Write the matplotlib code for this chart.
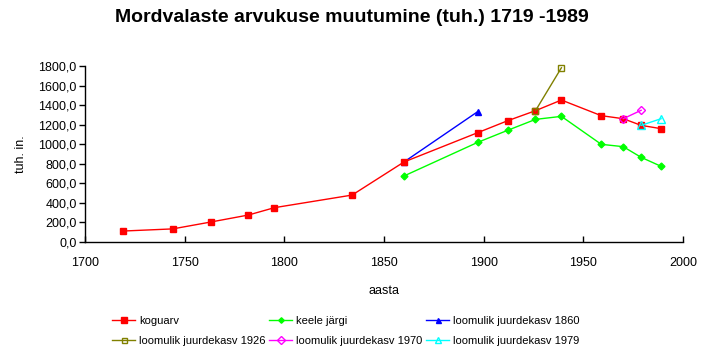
#!/usr/bin/env python3

import matplotlib
matplotlib.use('Agg')
import matplotlib.pyplot as plt
from matplotlib.ticker import FuncFormatter

# ======================================================================
# Data.
# ======================================================================

koguarv_years = [1719, 1744, 1763, 1782, 1795, 1834, 1860, 1897, 1912,
                 1926, 1939, 1959, 1970, 1979, 1989]
koguarv = [112, 134, 204, 276, 351, 480, 818, 1118, 1240,
           1343, 1452, 1292, 1261, 1193, 1159]

keele_years = [1860, 1897, 1912, 1926, 1939, 1959, 1970, 1979, 1989]
keele = [675, 1019, 1142, 1254, 1285, 999, 975, 866, 774]

jk1860_years = [1860, 1897]
jk1860 = [818, 1333]
jk1926_years = [1926, 1939]
jk1926 = [1343, 1782]
jk1970_years = [1970, 1979]
jk1970 = [1261, 1347]
jk1979_years = [1979, 1989]
jk1979 = [1193, 1261]

plt.rcParams['font.family'] = ['Liberation Sans', 'DejaVu Sans']

# ======================================================================
# Plot.
# ======================================================================

fig = plt.figure(figsize=(7.07, 3.64), dpi=100)
ax = fig.add_axes([85/707, 122/364, 598/707, 176/364])

h1, = ax.plot(koguarv_years, koguarv, color='#FF0000', lw=1, marker='s',
              ms=5, mec='#FF0000', mfc='#FF0000', label='koguarv',
              zorder=3)
h2, = ax.plot(keele_years, keele, color='#00FF00', lw=1, marker='D',
              ms=3.5, mec='#00FF00', mfc='#00FF00', label='keele järgi')
h3, = ax.plot(jk1860_years, jk1860, color='#0000FF', lw=1, marker='^',
              ms=4.5, mec='#0000FF', mfc='#0000FF',
              label='loomulik juurdekasv 1860')
h4, = ax.plot(jk1926_years, jk1926, color='#808000', lw=1, marker='s',
              ms=4.5, mec='#808000', mfc='none',
              label='loomulik juurdekasv 1926', zorder=4, clip_on=False)
h5, = ax.plot(jk1970_years, jk1970, color='#FF00FF', lw=1, marker='D',
              ms=4.5, mec='#FF00FF', mfc='none',
              label='loomulik juurdekasv 1970', zorder=4)
h6, = ax.plot(jk1979_years, jk1979, color='#00FFFF', lw=1, marker='^',
              ms=5.5, mec='#00FFFF', mfc='none',
              label='loomulik juurdekasv 1979', zorder=4)

ax.set_xlim(1700, 2000)
ax.set_ylim(0, 1800)
ax.set_xticks(range(1700, 2001, 50))
ax.set_yticks(range(0, 1801, 200))
ax.yaxis.set_major_formatter(
    FuncFormatter(lambda v, p: '{:.1f}'.format(v).replace('.', ',')))

for s in ['top', 'right']:
    ax.spines[s].set_visible(False)
for s in ['left', 'bottom']:
    ax.spines[s].set_linewidth(1)
ax.tick_params(axis='y', direction='out', length=4, width=1,
               labelsize=9, pad=2)
ax.tick_params(axis='x', direction='in', length=4, width=1,
               labelsize=9, pad=11)

ax.set_ylabel('tuh. in.', fontsize=9, labelpad=8)
ax.set_xlabel('aasta', fontsize=9, labelpad=11)

fig.text(0.498, 1 - 18/364, 'Mordvalaste arvukuse muutumine (tuh.) 1719 -1989',
         ha='center', va='center', fontsize=14, fontweight='bold')

# legend is filled column by column, so order handles to get rows
handles = [h1, h4, h2, h5, h3, h6]
leg = fig.legend(handles=handles, labels=[h.get_label() for h in handles],
                 loc='upper left', bbox_to_anchor=(112/707, 1 - 316/364),
                 ncol=3, frameon=False, fontsize=8, numpoints=1,
                 handlelength=2.1, handletextpad=0.35, columnspacing=0.3,
                 labelspacing=0.9, borderaxespad=0, borderpad=0,
                 markerscale=0.8)

fig.savefig('out.png', dpi=100)
